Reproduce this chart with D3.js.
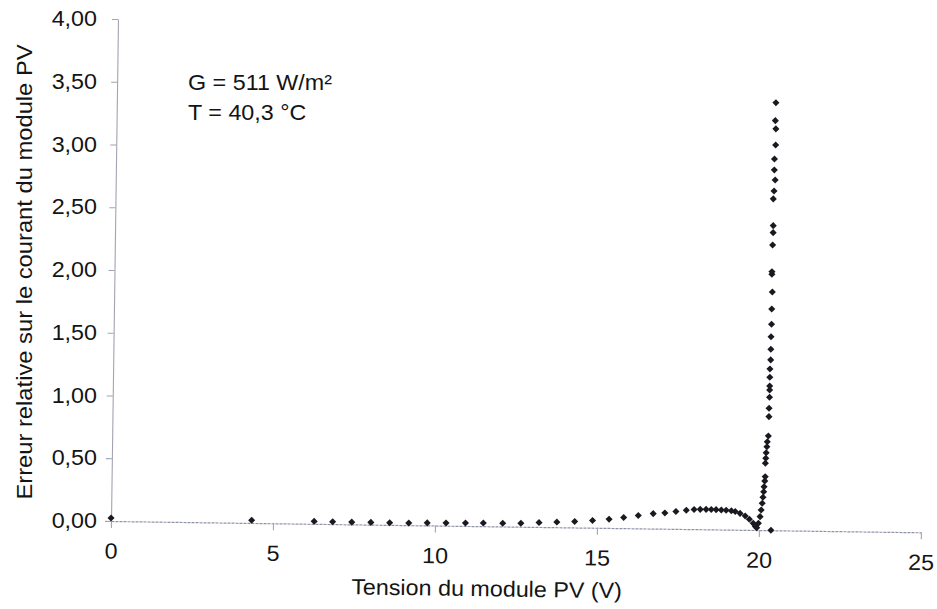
<!DOCTYPE html>
<html>
<head>
<meta charset="utf-8">
<script src="https://cdn.jsdelivr.net/npm/d3@7"></script>
<style>
  html, body { margin: 0; padding: 0; background: #ffffff; }
  svg { display: block; font-family: "Liberation Sans", Arial, sans-serif; }
</style>
</head>
<body>
<svg id="chart" width="937" height="609"></svg>
<script>
// Measured points: module voltage (V) and relative error on the module current
const tension = [
  0, 4.34, 6.27, 6.84, 7.43, 8.02, 8.60, 9.19, 9.76, 10.34,
  10.94, 11.49, 12.09, 12.65, 13.21, 13.76, 14.31, 14.86, 15.37, 15.82,
  16.27, 16.73, 17.09, 17.43, 17.75, 17.99, 18.18, 18.36, 18.52, 18.67,
  18.83, 18.98, 19.14, 19.26, 19.41, 19.57, 19.70, 19.82, 19.89, 19.93,
  19.98, 20.03, 20.06, 20.09, 20.11, 20.13, 20.14, 20.16, 20.17, 20.17,
  20.18, 20.19, 20.21, 20.22, 20.25, 20.26, 20.26, 20.27, 20.27, 20.27,
  20.27, 20.27, 20.29, 20.29, 20.29, 20.30, 20.30, 20.31, 20.29, 20.29,
  20.30, 20.31, 20.31, 20.30, 20.32, 20.35, 20.32, 20.32, 20.35, 20.35,
  20.33, 20.34, 20.37
];
const erreur = [
  0.024, 0.022, 0.020, 0.019, 0.018, 0.018, 0.017, 0.017, 0.020, 0.022,
  0.023, 0.025, 0.026, 0.028, 0.035, 0.041, 0.047, 0.057, 0.070, 0.085,
  0.102, 0.119, 0.126, 0.139, 0.150, 0.156, 0.158, 0.159, 0.159, 0.158,
  0.156, 0.154, 0.150, 0.145, 0.131, 0.111, 0.085, 0.054, 0.028, 0.018,
  0.054, 0.107, 0.160, 0.214, 0.262, 0.306, 0.346, 0.392, 0.426, 0.533,
  0.573, 0.617, 0.665, 0.705, 0.751, 0.905, 0.971, 1.059, 1.117, 1.149,
  1.219, 1.285, 1.357, 1.442, 1.542, 1.641, 1.763, 1.898, 2.040, 2.060,
  2.273, 2.371, 2.427, 2.640, 2.703, 2.791, 2.871, 2.958, 3.070, 3.198,
  3.264, 3.407, 0.000
];

const xTicks = [0, 5, 10, 15, 20, 25];
const yTicks = [0, 0.5, 1, 1.5, 2, 2.5, 3, 3.5, 4];
const conditions = ["G = 511 W/m\u00b2", "T = 40,3 \u00b0C"];
const xTitle = "Tension du module PV (V)";
const yTitle = "Erreur relative sur le courant du module PV";

// Layout
const origin = { x: 111, y: 521 };   // screen position of (0 V, 0,00)
const plotW = 810, plotH = 502;
const tilt = 0.8;                    // the printed sheet sits slightly askew
const fontSize = 22;
const stretch = 1.06;                // wide-set sans serif
const ink = "#141414";
const axisColor = "#8f93a8";

const x = d3.scaleLinear().domain([0, 25]).range([0, plotW]);
const y = d3.scaleLinear().domain([0, 4]).range([plotH, 0]);

const fr = d3.formatLocale({ decimal: ",", thousands: "\u00a0", grouping: [3], currency: ["", "\u00a0€"] });
const fmtY = fr.format(".2f");

const svg = d3.select("#chart");

// Tilted frame holding the axes and the measured points
const plot = svg.append("g")
  .attr("transform", `rotate(${tilt} ${origin.x} ${origin.y}) translate(${origin.x} ${origin.y - plotH})`);

// Y axis line and ticks
const yAxis = plot.append("g")
  .call(d3.axisLeft(y).tickValues(yTicks).tickSize(6).tickSizeOuter(0).tickFormat(""));
yAxis.select(".domain").attr("stroke", "#a2a4b2").attr("stroke-width", 1.1);
yAxis.selectAll(".tick line").attr("stroke", "#a2a4b2").attr("stroke-width", 1.1);

// X axis line, ticks and labels
const xAxis = plot.append("g")
  .attr("transform", `translate(0,${plotH})`)
  .call(d3.axisBottom(x).tickValues(xTicks).tickSize(7).tickPadding(15).tickSizeOuter(0).tickFormat(d3.format("d")));
xAxis.select(".domain").attr("stroke", axisColor).attr("stroke-width", 1.2).attr("stroke-dasharray", "3,1");
xAxis.selectAll(".tick line").attr("stroke", "#a2a4b2").attr("stroke-width", 1.1);
xAxis.selectAll(".tick text")
  .attr("font-family", "Liberation Sans, Arial, sans-serif")
  .attr("font-size", fontSize)
  .attr("fill", ink)
  .attr("transform", `scale(${stretch},1)`);

// X axis title
plot.append("text")
  .attr("transform", `translate(376.5,572) scale(${stretch},1)`)
  .attr("text-anchor", "middle")
  .attr("font-size", fontSize)
  .attr("fill", ink)
  .text(xTitle);

// Measured points as small diamonds
const diamond = d3.symbol(d3.symbolSquare, 25)();
plot.append("g")
  .selectAll("path")
  .data(d3.range(tension.length))
  .join("path")
  .attr("d", diamond)
  .attr("transform", i => `translate(${x(tension[i])},${y(erreur[i])}) rotate(45)`)
  .attr("fill", "#1c1820");

// Y tick labels, right aligned
svg.append("g")
  .selectAll("text")
  .data(yTicks)
  .join("text")
  .attr("transform", d => `translate(97,${origin.y - plotH + y(d)}) scale(${stretch},1)`)
  .attr("dy", "0.32em")
  .attr("text-anchor", "end")
  .attr("font-size", fontSize)
  .attr("fill", ink)
  .text(fmtY);

// Y axis title
svg.append("text")
  .attr("transform", `translate(32,272) rotate(-90) scale(1.08,1)`)
  .attr("text-anchor", "middle")
  .attr("font-size", fontSize)
  .attr("fill", ink)
  .text(yTitle);

// Measurement conditions
svg.append("g")
  .selectAll("text")
  .data(conditions)
  .join("text")
  .attr("transform", (d, i) => `translate(188,${89.5 + i * 30}) scale(${stretch},1)`)
  .attr("font-size", fontSize)
  .attr("fill", ink)
  .text(d => d);
</script>
</body>
</html>
